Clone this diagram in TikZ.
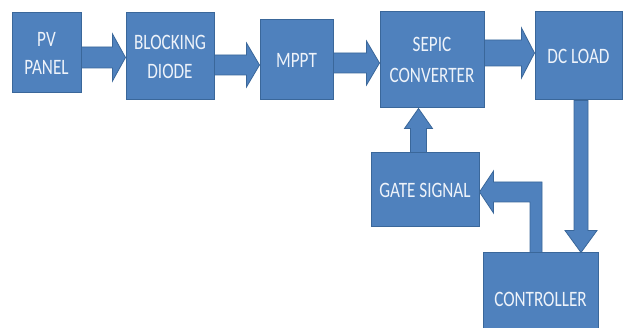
\documentclass[tikz,border=0pt]{standalone}
\usepackage{fontspec}
\setmainfont{Carlito}
\usetikzlibrary{calc}
\definecolor{boxblue}{HTML}{4F81BD}
\definecolor{edgeblue}{HTML}{3A679A}
\definecolor{txtwhite}{HTML}{EEF3FA}
\newcommand{\tx}[1]{\scalebox{0.78}[1]{#1}}
% horizontal block arrow: from, to, row, shaft half, head half
\newcommand{\harr}[5]{%
\filldraw[arr] let \p1=(#1.east), \p2=(#2.west), \p3=(0,#3) in
 (\x1,\y3+#4pt) -- (\x2-13pt,\y3+#4pt) -- (\x2-13pt,\y3+#5pt) -- (\x2,\y3)
 -- (\x2-13pt,\y3-#5pt) -- (\x2-13pt,\y3-#4pt) -- (\x1,\y3-#4pt) -- cycle;}
\begin{document}
\begin{tikzpicture}[x=1pt,y=-1pt,
 blk/.style={draw=edgeblue, fill=boxblue, line width=1pt, text=txtwhite,
   font=\fontsize{22}{28}\selectfont, align=center, inner sep=0pt},
 arr/.style={fill=boxblue, draw=edgeblue, line width=0.8pt, line join=miter}]
\useasboundingbox (0,0) rectangle (624,328);
\clip (0,0) rectangle (624,328);
\fill[white] (0,0) rectangle (624,328);
\node[blk, minimum width=69pt, minimum height=80pt] (pv) at (46.5,53) {\tx{PV}\\\tx{PANEL}};
\node[blk, minimum width=88pt, minimum height=87pt] (bd) at (170,56.5) {\tx{BLOCKING}\\[1pt]\tx{DIODE}};
\node[blk, minimum width=73pt, minimum height=80pt] (mppt) at (296.5,60) {\tx{MPPT}};
\node[blk, minimum width=104pt, minimum height=96pt] (sepic) at (432,60) {\tx{SEPIC}\\[3pt]\tx{CONVERTER}};
\node[blk, minimum width=87pt, minimum height=88pt] (dc) at (578.5,56) {\tx{DC LOAD}};
\node[blk, minimum width=108pt, minimum height=74pt] (gate) at (425,190) {\tx{GATE SIGNAL}};
\node[blk, minimum width=115pt, minimum height=92pt] (ctrl) at (540.5,299) {\tx{CONTROLLER}};
\harr{pv}{bd}{57.5}{10.5}{23.5}
\harr{bd}{mppt}{65}{10}{22}
\harr{mppt}{sepic}{63}{10}{22}
\harr{sepic}{dc}{53}{13}{25}
% DC LOAD -> CONTROLLER (down)
\filldraw[arr] let \p1=(dc.south), \p2=(ctrl.north), \p3=(581,0) in
 (\x3-7pt,\y1) -- (\x3-7pt,\y2+22pt) -- (\x3-16pt,\y2+22pt) -- (\x3,\y2)
 -- (\x3+16pt,\y2+22pt) -- (\x3+7pt,\y2+22pt) -- (\x3+7pt,\y1) -- cycle;
% GATE SIGNAL -> SEPIC (up)
\filldraw[arr] let \p1=(gate.north), \p2=(sepic.south), \p3=(418.5,0) in
 (\x3-8pt,\y1) -- (\x3-8pt,\y2-20pt) -- (\x3-14pt,\y2-20pt) -- (\x3,\y2)
 -- (\x3+14pt,\y2-20pt) -- (\x3+8pt,\y2-20pt) -- (\x3+8pt,\y1) -- cycle;
% CONTROLLER -> GATE SIGNAL (elbow)
\filldraw[arr] let \p1=(ctrl.north), \p2=(gate.east), \p3=(536,192) in
 (\x3-6pt,\y1) -- (\x3-6pt,\y3-10pt) -- (\x2+14pt,\y3-10pt) -- (\x2+14pt,\y3-21pt)
 -- (\x2,\y3) -- (\x2+14pt,\y3+21pt) -- (\x2+14pt,\y3+10pt) -- (\x3+6pt,\y3+10pt)
 -- (\x3+6pt,\y1) -- cycle;
\end{tikzpicture}
\end{document}
